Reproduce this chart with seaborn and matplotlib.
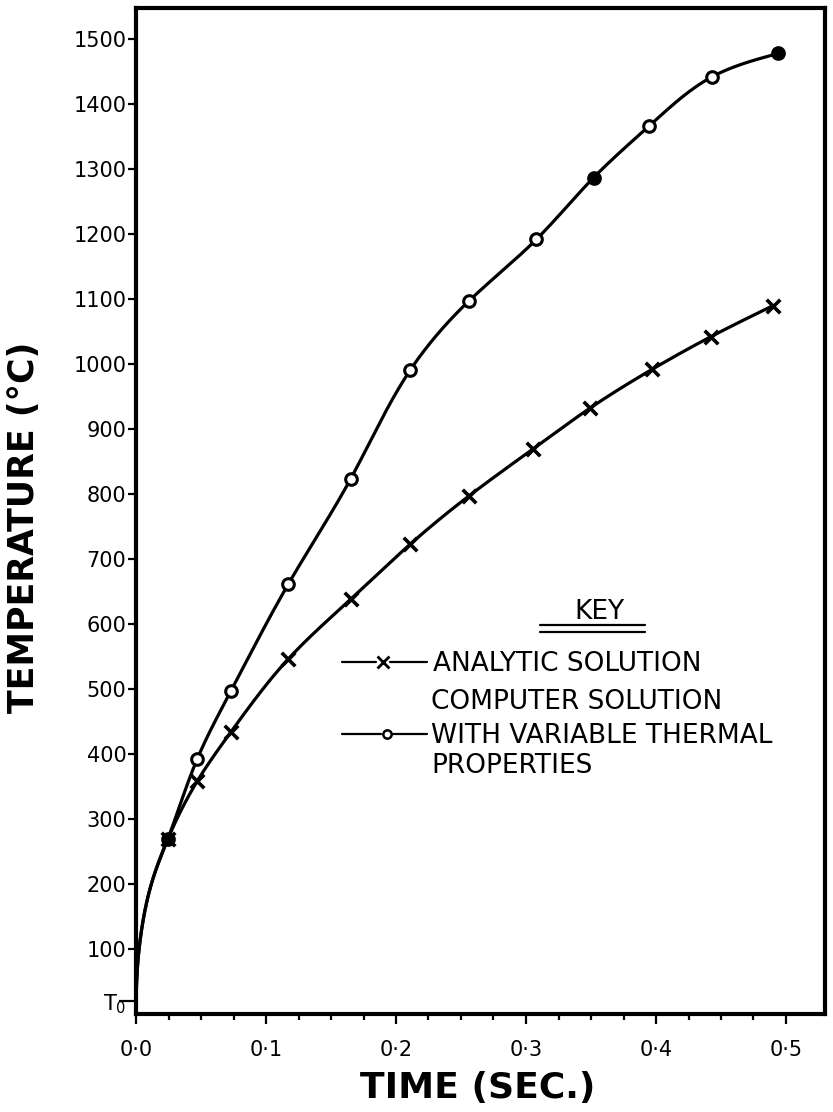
import numpy as np
import pandas as pd
import matplotlib
matplotlib.use("Agg")
import matplotlib.pyplot as plt
import seaborn as sns

# ---------------- data ----------------
# common start of both curves (line only, no markers)
start_time = [0.0, 0.001, 0.0044, 0.013]
start_temp = [20, 69, 131, 208]

# analytic solution (x markers)
analytic_time = [0.0244, 0.047, 0.073, 0.117, 0.165, 0.211, 0.256, 0.305, 0.349, 0.397, 0.442, 0.490]
analytic_temp = [269, 358, 434, 546, 638, 723, 797, 869, 932, 992, 1042, 1090]

# computer solution with variable thermal properties (o markers)
computer_time = [0.0244, 0.047, 0.073, 0.117, 0.165, 0.211, 0.256, 0.308, 0.352, 0.395, 0.443, 0.494]
computer_temp = [269, 392, 497, 661, 823, 991, 1097, 1192, 1287, 1367, 1442, 1478]
computer_filled = [True, False, False, False, False, False, False, False, True, False, False, True]

y_ticks = [20, 100, 200, 300, 400, 500, 600, 700, 800, 900, 1000, 1100, 1200, 1300, 1400, 1500]
y_ticklabels = [r"T$_{\mathregular{0}}$"] + [str(v) for v in y_ticks[1:]]
x_ticks = [0.0, 0.1, 0.2, 0.3, 0.4, 0.5]
x_ticklabels = ["0·0", "0·1", "0·2", "0·3", "0·4", "0·5"]

x_label = "TIME (SEC.)"
y_label = "TEMPERATURE (°C)"
key_title = "KEY"
key_analytic = "ANALYTIC SOLUTION"
key_computer = ["COMPUTER SOLUTION", "WITH VARIABLE THERMAL", "PROPERTIES"]


def _nat_spline_coef(u, y):
    n = len(u)
    h = np.diff(u)
    A = np.zeros((n, n))
    rhs = np.zeros(n)
    A[0, 0] = A[-1, -1] = 1.0
    for i in range(1, n - 1):
        A[i, i - 1] = h[i - 1]
        A[i, i] = 2 * (h[i - 1] + h[i])
        A[i, i + 1] = h[i]
        rhs[i] = 6 * ((y[i + 1] - y[i]) / h[i] - (y[i] - y[i - 1]) / h[i - 1])
    return np.linalg.solve(A, rhs)


def smooth(xs, ys, xscale=2000.0, n=30):
    """Parametric natural cubic spline through the points (only used to draw the line)."""
    px = np.asarray(xs, float) * xscale
    py = np.asarray(ys, float)
    d = np.hypot(np.diff(px), np.diff(py))
    u = np.concatenate([[0], np.cumsum(d)])
    out_x, out_y = [], []
    for vals, out in ((px, out_x), (py, out_y)):
        M = _nat_spline_coef(u, vals)
        for i in range(len(u) - 1):
            h = u[i + 1] - u[i]
            tt = np.linspace(u[i], u[i + 1], n)[(0 if i == 0 else 1):]
            a = (u[i + 1] - tt) / h
            b = (tt - u[i]) / h
            s = (a * vals[i] + b * vals[i + 1]
                 + ((a ** 3 - a) * M[i] + (b ** 3 - b) * M[i + 1]) * h * h / 6)
            out.extend(s)
    return np.array(out_x) / xscale, np.array(out_y)


sns.set_style("white")
plt.rcParams["font.family"] = ["DejaVu Sans"]
plt.rcParams["mathtext.default"] = "regular"
plt.rcParams["text.color"] = "black"
plt.rcParams["xtick.color"] = "black"
plt.rcParams["ytick.color"] = "black"
plt.rcParams["axes.labelcolor"] = "black"

W, H = 833, 1112
fig = plt.figure(figsize=(W / 100, H / 100), dpi=100)
L, R, T, B = 136, 825, 8, 1014
ax = fig.add_axes([L / W, 1 - B / H, (R - L) / W, (B - T) / H])

ax.set_xlim(0, 0.530)
ax.set_ylim(0, 1548)

# curves
ax_x, ax_y = smooth(start_time + analytic_time, start_temp + analytic_temp)
co_x, co_y = smooth(start_time + computer_time, start_temp + computer_temp)
sns.lineplot(x=ax_x, y=ax_y, sort=False, estimator=None, color="black", lw=2.3, ax=ax)
sns.lineplot(x=co_x, y=co_y, sort=False, estimator=None, color="black", lw=2.3, ax=ax)

# markers
sns.scatterplot(x=analytic_time, y=analytic_temp, marker="x", s=95, color="black",
                linewidth=2.6, ax=ax, zorder=5)
df = pd.DataFrame({"t": computer_time, "T": computer_temp, "f": computer_filled})
sns.scatterplot(data=df[~df.f], x="t", y="T", marker="o", s=70, facecolor="white",
                edgecolor="black", linewidth=2.2, ax=ax, zorder=5)
sns.scatterplot(data=df[df.f], x="t", y="T", marker="o", s=70, facecolor="black",
                edgecolor="black", linewidth=2.2, ax=ax, zorder=5)

# spines / ticks
for s in ax.spines.values():
    s.set_visible(True)
    s.set_color("black")
    s.set_linewidth(3)

ax.set_yticks(y_ticks)
ax.set_yticklabels(y_ticklabels, fontsize=15, color="black")
ax.set_xticks(x_ticks)
ax.set_xticklabels(x_ticklabels, fontsize=15, color="black")
ax.set_xticks([v for v in np.arange(0.025, 0.49, 0.025) if abs(v * 10 - round(v * 10)) > 1e-6], minor=True)
ax.tick_params(axis="y", which="major", direction="out", length=6, width=1.6, pad=1, left=True, color="black")
ax.tick_params(axis="x", which="major", direction="out", length=7, width=1.6, pad=12, bottom=True, color="black")
ax.tick_params(axis="x", which="minor", direction="out", length=4.5, width=1.6, bottom=True, color="black")
ax.yaxis.get_major_ticks()[0].tick1line.set_markersize(12)
ax.set_xlabel("")
ax.set_ylabel("")

# axis titles
fig.text(478 / W, 1 - 1088 / H, x_label, ha="center", va="center", fontsize=26,
         fontweight="bold", color="black")
fig.text(24 / W, 1 - 527 / H, y_label, ha="center", va="center", rotation=90, fontsize=25,
         fontweight="bold", color="black")


def axc(px, py):
    return ((px - L) / (R - L), (B - py) / (B - T))


tr = ax.transAxes
# key
ax.text(*axc(599, 612), key_title, transform=tr, ha="center", va="center", fontsize=19, color="black")
for yy in (625, 632):
    (x0, y0), (x1, _) = axc(540, yy), axc(645, yy)
    ax.plot([x0, x1], [y0, y0], transform=tr, color="black", lw=1.6, clip_on=False)

# analytic key entry
(a0, ya), (a1, _), (a2, _), (a3, _) = axc(342, 662), axc(376, 662), axc(390, 662), axc(427, 662)
ax.plot([a0, a1], [ya, ya], transform=tr, color="black", lw=1.6)
ax.plot([a2, a3], [ya, ya], transform=tr, color="black", lw=1.6)
ax.plot([axc(383, 662)[0]], [ya], transform=tr, marker="x", ms=8, mew=2, color="black")
ax.text(*axc(433, 664), key_analytic, transform=tr, ha="left", va="center", fontsize=19, color="black")

# computer key entry
(c0, yc), (c1, _), (c2, _), (c3, _) = axc(342, 734), axc(381, 734), axc(393, 734), axc(427, 734)
ax.plot([c0, c1], [yc, yc], transform=tr, color="black", lw=1.6)
ax.plot([c2, c3], [yc, yc], transform=tr, color="black", lw=1.6)
ax.plot([axc(387, 734)[0]], [yc], transform=tr, marker="o", ms=6, mew=1.8,
        markerfacecolor="white", markeredgecolor="black")
for txt, py in zip(key_computer, [702, 736, 766]):
    ax.text(*axc(431, py), txt, transform=tr, ha="left", va="center", fontsize=19, color="black")

fig.savefig("out.png", dpi=100)
